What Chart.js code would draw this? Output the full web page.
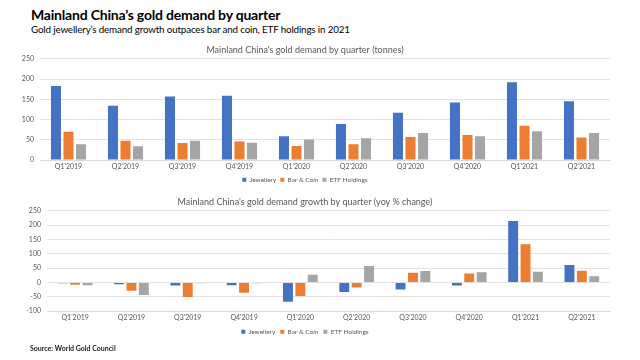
<!DOCTYPE html>
<html><head><meta charset="utf-8">
<script src="https://cdn.jsdelivr.net/npm/chart.js@4/dist/chart.umd.min.js"></script>
<style>
html,body{margin:0;padding:0;background:#fff;width:640px;height:360px;overflow:hidden;font-family:Lato,"Open Sans",sans-serif;}
#t{position:absolute;left:31px;top:6px;font-size:14px;font-weight:bold;color:#000;white-space:nowrap;letter-spacing:-0.2px;}
#s{position:absolute;left:31px;top:23px;font-size:9.8px;color:#000;white-space:nowrap;letter-spacing:-0.15px;}
#src{position:absolute;left:30px;top:344px;font-size:7px;font-weight:bold;color:#222;white-space:nowrap;}
.c{position:absolute;left:0;width:640px;}
</style></head><body>
<div id="t">Mainland China’s gold demand by quarter</div>
<div id="s">Gold jewellery’s demand growth outpaces bar and coin, ETF holdings in 2021</div>
<div class="c" style="top:40px;height:153px"><canvas id="c1"></canvas></div>
<div class="c" style="top:195px;height:150px"><canvas id="c2"></canvas></div>
<div id="src">Source: World Gold Council</div>
<script>
const categories = ["Q1'2019","Q2'2019","Q3'2019","Q4'2019","Q1'2020","Q2'2020","Q3'2020","Q4'2020","Q1'2021","Q2'2021"];
const seriesNames = ["Jewellery","Bar & Coin","ETF Holdings"];
const tonnesJewellery = [183,134,157,159,59,89,117,142,192,145];
const tonnesBarCoin = [70,48,42,46,35,39,57,62,85,56];
const tonnesETF = [39,34,48,43,51,54,67,59,71,67];
const yoyJewellery = [-3,-6,-11,-10,-67,-33,-25,-11,214,61];
const yoyBarCoin = [-8,-29,-51,-36,-47,-18,34,31,133,41];
const yoyETF = [-10,-44,-3,-3,27,57,40,36,37,22];
const tonnesTicks = [0,50,100,150,200,250];
const yoyTicks = [-100,-50,0,50,100,150,200,250];
const colors = ["#4472C4","#ED7D31","#A5A5A5"];
Chart.defaults.font.family = 'Lato, "Open Sans", sans-serif';

function makeChart(id, title, data, yMin, yMax, tickVals, pad){
  return new Chart(document.getElementById(id), {
    type:'bar',
    data:{labels:categories, datasets:data.map((d,i)=>({label:seriesNames[i], data:d, backgroundColor:colors[i], barPercentage:0.8, categoryPercentage:0.66}))},
    options:{
      responsive:true, maintainAspectRatio:false, animation:false,
      layout:{padding:{left:0,right:30,top:pad.top,bottom:pad.bottom}},
      plugins:{
        title:{display:true,text:title,color:'#595959',font:{size:9,weight:'normal'},padding:{top:0,bottom:pad.tb}},
        legend:{position:'bottom',labels:{boxWidth:4,boxHeight:4,color:'#595959',font:{size:6.5},padding:pad.lp}},
        tooltip:{enabled:false}
      },
      scales:{
        x:{grid:{display:false,drawTicks:false},border:{color:'#d9d9d9'},ticks:{color:'#595959',font:{size:7},maxRotation:0,autoSkip:false,padding:pad.xp}},
        y:{min:yMin,max:yMax,afterFit:a=>{a.width=pad.yw;},afterBuildTicks:a=>{a.ticks=tickVals.map(v=>({value:v}));},
           grid:{color:'#e3e3e3',drawTicks:false},border:{display:false},ticks:{color:'#595959',font:{size:7},padding:6}}
      }
    }
  });
}
makeChart('c1',"Mainland China's gold demand by quarter (tonnes)",[tonnesJewellery,tonnesBarCoin,tonnesETF],0,250,tonnesTicks,{top:5,bottom:0,tb:3,yw:40,xp:2,lp:4});
makeChart('c2',"Mainland China's gold demand growth by quarter (yoy % change)",[yoyJewellery,yoyBarCoin,yoyETF],-100,250,yoyTicks,{top:2,bottom:0,tb:3,yw:47,xp:2,lp:5});
</script>
</body></html>
